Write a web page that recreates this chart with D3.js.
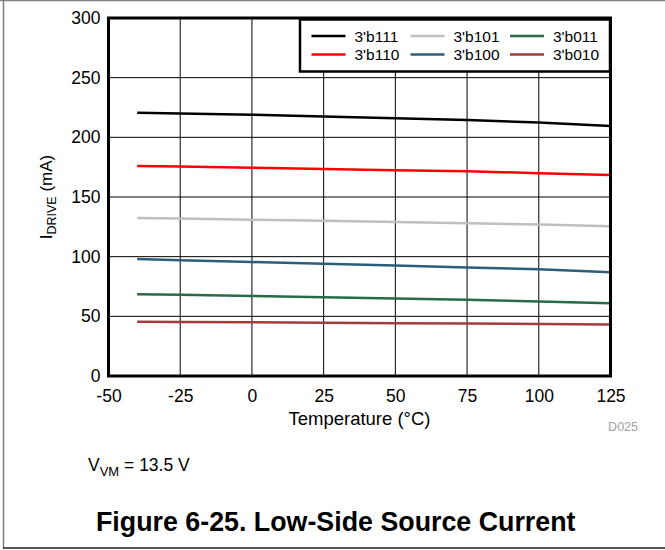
<!DOCTYPE html>
<html><head><meta charset="utf-8">
<script src="https://cdn.jsdelivr.net/npm/d3@7"></script>
<style>body{margin:0;background:#fff;} svg{display:block;font-family:"Liberation Sans",Arial,sans-serif;}</style>
</head><body>
<svg id="c" width="665" height="550"></svg>
<script>
const temps = [-40, -25, 0, 25, 50, 75, 100, 125];
const s111 = [220.5, 220, 219, 217.5, 216, 214.5, 212.5, 209.5];
const s110 = [176, 175.5, 174.5, 173.5, 172.5, 171.5, 170, 168.5];
const s101 = [132.5, 132, 131, 130, 129, 128, 127, 125.5];
const s100 = [98, 97, 95.5, 94, 92.5, 91, 89.5, 87];
const s011 = [68.5, 68, 67, 66, 65, 64, 62.5, 61];
const s010 = [45.5, 45.3, 45, 44.7, 44.3, 44, 43.6, 43.2];
const seriesNames = ["3'b111", "3'b110", "3'b101", "3'b100", "3'b011", "3'b010"];
const seriesColors = ["#000000", "#ff0000", "#bfbfbf", "#2a5f7c", "#276b47", "#a33d3d"];
const seriesData = [s111, s110, s101, s100, s011, s010];
const xTicks = [-50, -25, 0, 25, 50, 75, 100, 125];
const yTicks = [0, 50, 100, 150, 200, 250, 300];

const FF = "'Liberation Sans', Arial, sans-serif";
const svg = d3.select("#c");
const L = 108.5, R = 610.5, T = 18, B = 376;
const x = d3.scaleLinear().domain([-50, 125]).range([L, R]);
const y = d3.scaleLinear().domain([0, 300]).range([B, T]);

// outer frame
svg.append("line").attr("x1",0).attr("x2",665).attr("y1",0.5).attr("y2",0.5).attr("stroke","#808080").attr("stroke-width",1.5);
svg.append("line").attr("x1",3.5).attr("x2",3.5).attr("y1",0).attr("y2",548).attr("stroke","#808080").attr("stroke-width",1.5);
svg.append("line").attr("x1",3).attr("x2",665).attr("y1",548).attr("y2",548).attr("stroke","#222").attr("stroke-width",1.5);

// grid
const g = svg.append("g");
g.selectAll(".vg").data(xTicks.slice(1,-1)).enter().append("line")
  .attr("x1",d=>x(d)).attr("x2",d=>x(d)).attr("y1",T).attr("y2",B).attr("stroke","#000").attr("stroke-width",1);
g.selectAll(".hg").data(yTicks.slice(1,-1)).enter().append("line")
  .attr("x1",L).attr("x2",R).attr("y1",d=>y(d)).attr("y2",d=>y(d)).attr("stroke","#000").attr("stroke-width",1);

// lines
const line = d3.line().x((d,i)=>x(temps[i])).y(d=>y(d));
seriesData.forEach((s,k)=>{
  svg.append("path").datum(s).attr("d",line).attr("fill","none")
    .attr("stroke",seriesColors[k]).attr("stroke-width",2.5);
});

// plot border
svg.append("rect").attr("x",L).attr("y",T).attr("width",R-L).attr("height",B-T)
  .attr("fill","none").attr("stroke","#000").attr("stroke-width",3);

// axes labels
const xAxis = d3.axisBottom(x).tickValues(xTicks).tickSize(0).tickPadding(14).tickFormat(d=>String(d));
const xg = svg.append("g").attr("transform",`translate(0,${B})`).call(xAxis);
xg.attr("font-size",17.5).attr("font-family",FF);
xg.select(".domain").remove();
xg.selectAll("text").attr("fill","#000");
const yAxis = d3.axisLeft(y).tickValues(yTicks).tickSize(0).tickPadding(8).tickFormat(d=>String(d));
const yg = svg.append("g").attr("transform",`translate(${L},0)`).call(yAxis);
yg.attr("font-size",17.5).attr("font-family",FF);
yg.select(".domain").remove();
yg.selectAll("text").attr("fill","#000");

// axis titles
svg.append("text").attr("x",(L+R)/2).attr("y",425).attr("text-anchor","middle").attr("font-size",18.5)
  .text("Temperature (°C)");
const yt = svg.append("text").attr("transform","translate(52,197) rotate(-90)").attr("text-anchor","middle").attr("font-size",17);
yt.append("tspan").text("I");
yt.append("tspan").attr("font-size",12.5).attr("dy",4).text("DRIVE");
yt.append("tspan").attr("dy",-4).text(" (mA)");

svg.append("text").attr("x",638).attr("y",431).attr("text-anchor","end").attr("font-size",12.5).attr("fill","#a0a0a0").text("D025");

// legend
svg.append("rect").attr("x",300).attr("y",19.5).attr("width",310).attr("height",52)
  .attr("fill","#fff").attr("stroke","#000").attr("stroke-width",2.5);
const colX = [311.5, 410.5, 510];
const rowY = [36, 54.5];
seriesNames.forEach((n,k)=>{
  const col = Math.floor(k/2), row = k%2;
  svg.append("line").attr("x1",colX[col]).attr("x2",colX[col]+34).attr("y1",rowY[row]).attr("y2",rowY[row])
    .attr("stroke",seriesColors[k]).attr("stroke-width",2.5);
  svg.append("text").attr("x",colX[col]+43).attr("y",rowY[row]+5.5).attr("font-size",15.5).text(n);
});

// annotation
const vt = svg.append("text").attr("x",88).attr("y",471).attr("font-size",17.5);
vt.append("tspan").text("V");
vt.append("tspan").attr("font-size",13).attr("dy",5).text("VM");
vt.append("tspan").attr("dy",-5).text(" = 13.5 V");

svg.append("text").attr("x",96).attr("y",531).attr("font-size",26.8).attr("font-weight","bold").text("Figure 6-25. Low-Side Source Current");
</script>
</body></html>
